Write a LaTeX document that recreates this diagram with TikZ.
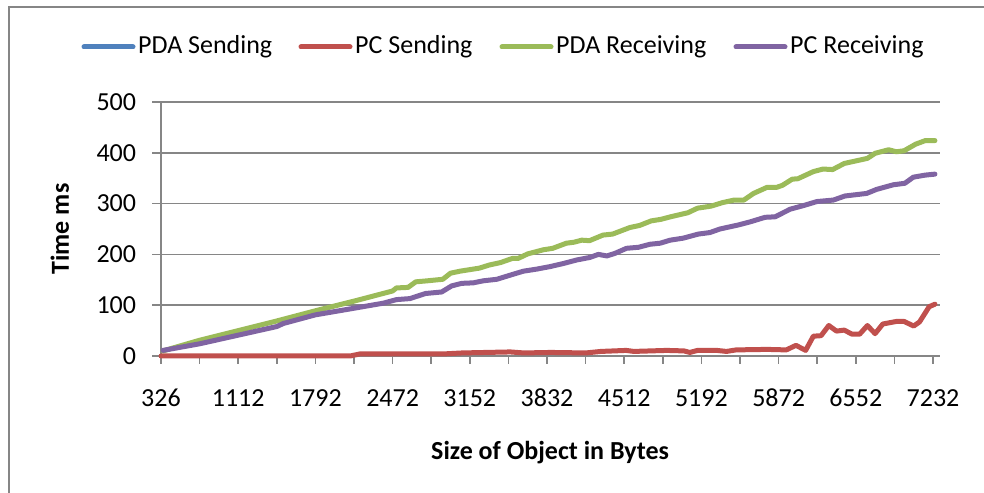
\documentclass[tikz,border=0pt]{standalone}
\usepackage{fontspec}
\setmainfont{Carlito}
\usetikzlibrary{positioning}
\definecolor{pdablue}{RGB}{79,129,189}
\definecolor{pcred}{RGB}{192,80,77}
\definecolor{pdagreen}{RGB}{155,187,89}
\definecolor{pcviolet}{RGB}{128,100,162}
\definecolor{rulegray}{RGB}{134,134,134}
\tikzset{
  frame/.style={draw=rulegray,line width=2.2pt},
  gridline/.style={draw=rulegray,line width=1.5pt},
  series/.style={line width=5pt,line cap=round,line join=round},
  keyline/.style={line width=5pt,line cap=round},
  ticklab/.style={font=\fontsize{26}{30}\selectfont,inner sep=0pt},
  keylab/.style={ticklab,anchor=west},
  axislab/.style={font=\fontsize{26}{30}\selectfont\bfseries,inner sep=0pt},
}

\begin{document}
\begin{tikzpicture}[x=1pt,y=1pt]
  \path[use as bounding box] (0,0) rectangle (984,492);
  \draw[frame] (9,-20) rectangle (1010,485);

  \foreach \x/\col/\name/\lab in {84/pdablue/kpdasend/PDA Sending,301/pcred/kpcsend/PC Sending,
                                 502/pdagreen/kpdarecv/PDA Receiving,736/pcviolet/kpcrecv/PC Receiving}{
    \node[keylab] (\name) at (\x+54,445) {\lab};
    \draw[keyline,\col] ([xshift=-5pt]\name.west) -- ++(-49,0);
  }

  \begin{scope}[shift={(161,136)},x=38.6pt,y=0.508pt]
    \foreach \v in {0,100,...,500}{
      \draw[gridline] (-0.23,\v) -- (20.18,\v);
      \node[ticklab,anchor=east] (ylab\v) at (-0.64,\v) {\v};
    }
    \draw[gridline] (0,-15.7) -- (0,500);
    \foreach \k in {0,...,20}
      \draw[gridline] (\k,0) -- (\k,-15.7);
    \foreach \k/\lab in {0/326,2/1112,4/1792,6/2472,8/3152,10/3832,12/4512,14/5192,16/5872,18/6552,20/7232}
      \node[ticklab] (xlab\k) at (\k,-82.7) {\lab};

    \node[axislab] (xtitle) at (10.08,-190) {Size of Object in Bytes};
    \node[axislab,rotate=90] (ytitle) at (-2.62,250) {Time ms};

    % PC Sending
    \draw[series,pcred] plot coordinates {(0,0) (4.9,0) (5.15,4) (7.3,4) (7.8,6) (9.05,8) (9.4,6)
      (10.1,7) (11,6) (11.4,9) (12.05,11) (12.25,9) (13.1,11) (13.55,10) (13.7,7) (13.9,11)
      (14.4,11) (14.65,9) (14.9,12) (15.7,13) (16.2,12) (16.45,21) (16.7,11) (16.9,39) (17.1,40)
      (17.3,60) (17.5,49) (17.7,51) (17.9,43) (18.1,43) (18.3,60) (18.5,44) (18.7,63) (19.05,68)
      (19.25,68) (19.5,59) (19.65,67) (19.9,97) (20.05,102)};
    % PDA Receiving
    \draw[series,pdagreen] plot coordinates {(0.05,10) (1,31) (2,50) (3,69) (4,89) (5,108) (6,128)
      (6.1,134) (6.4,135) (6.6,146) (6.9,148) (7.3,151) (7.5,163) (7.75,167) (8.25,173) (8.5,179)
      (8.8,184) (9.1,192) (9.25,192) (9.5,201) (9.9,209) (10.15,212) (10.5,222) (10.7,224)
      (10.9,228) (11.1,227) (11.45,238) (11.7,240) (12.15,253) (12.4,257) (12.7,266) (12.95,269)
      (13.2,274) (13.65,282) (13.9,291) (14.25,295) (14.55,302) (14.85,307) (15.1,307) (15.35,320)
      (15.7,332) (15.95,332) (16.1,336) (16.35,348) (16.5,349) (16.9,363) (17.15,368) (17.4,367)
      (17.7,379) (18,384) (18.3,389) (18.5,399) (18.85,406) (19.05,402) (19.25,404) (19.55,417)
      (19.8,424) (20.05,424)};
    % PC Receiving
    \draw[series,pcviolet] plot coordinates {(0.05,11) (1,24) (2,41) (3,58) (3.17,64) (4,81) (5,94)
      (5.76,104) (6.1,111) (6.45,113) (6.85,123) (7.27,126) (7.53,138) (7.79,143) (8.09,144)
      (8.35,148) (8.7,151) (9.04,159) (9.39,167) (9.73,171) (10.08,176) (10.42,182) (10.77,189)
      (11.11,194) (11.33,200) (11.55,197) (11.76,202) (12.06,212) (12.37,214) (12.67,220)
      (12.93,222) (13.19,228) (13.53,232) (13.92,240) (14.22,243) (14.48,250) (14.96,258)
      (15.26,264) (15.65,273) (15.91,274) (16.3,289) (16.64,296) (16.99,304) (17.42,307)
      (17.72,315) (18.28,320) (18.54,328) (18.97,337) (19.27,340) (19.49,352) (19.79,356)
      (20.05,358)};
  \end{scope}
\end{tikzpicture}
\end{document}
